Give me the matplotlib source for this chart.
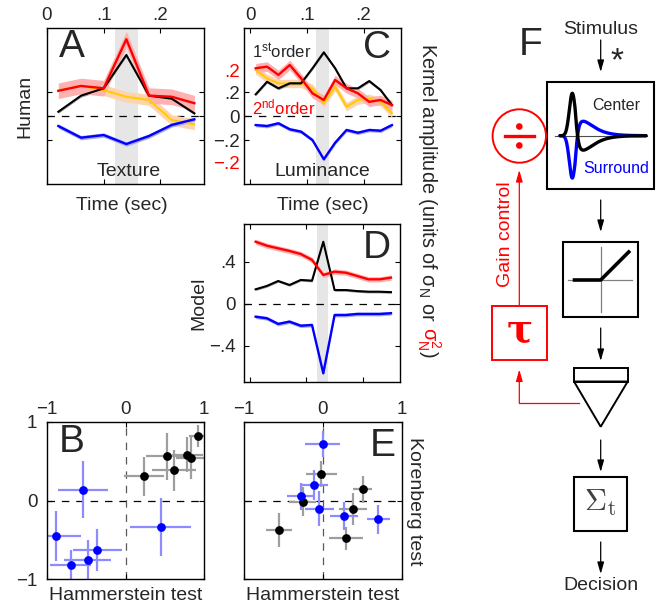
import numpy as np
import matplotlib
matplotlib.use('Agg')
import matplotlib.pyplot as plt
from matplotlib.patches import Rectangle, Circle, Polygon

# ---------------- data ----------------
# Panel A (human, texture) time points (sec)
tA = [0.02, 0.06, 0.10, 0.14, 0.18, 0.22, 0.26]
A_center1 = [0.038, 0.172, 0.233, 0.511, 0.172, 0.147, 0.025]       # black, 1st order units
A_surround1 = [-0.081, -0.178, -0.156, -0.231, -0.164, -0.072, -0.025]  # blue, 1st order units
A_center2 = [0.111, 0.132, 0.122, 0.335, 0.090, 0.085, 0.057]        # red, 2nd order units
A_surround2 = [0.111, 0.132, 0.114, 0.085, 0.071, -0.016, -0.035]    # yellow, 2nd order units

# Panel C (human, luminance)
tC = [0.01, 0.03, 0.05, 0.07, 0.09, 0.11, 0.13, 0.15, 0.17, 0.19, 0.21, 0.23, 0.25]
C_center1 = [0.183, 0.288, 0.233, 0.275, 0.275, 0.400, 0.533, 0.400, 0.233, 0.233, 0.294, 0.219, 0.094]
C_surround1 = [-0.073, -0.081, -0.058, -0.108, -0.128, -0.198, -0.358, -0.220, -0.114, -0.137, -0.114, -0.120, -0.073]
C_center2 = [0.209, 0.216, 0.180, 0.223, 0.165, 0.100, 0.071, 0.158, 0.122, 0.100, 0.063, 0.071, 0.049]
C_surround2 = [0.201, 0.165, 0.143, 0.143, 0.143, 0.122, 0.057, 0.129, 0.042, 0.071, 0.078, 0.063, 0.013]

# Panel D (model)
D_center1 = [0.137, 0.169, 0.216, 0.178, 0.226, 0.219, 0.590, 0.130, 0.130, 0.120, 0.114, 0.114, 0.110]
D_surround1 = [-0.124, -0.139, -0.193, -0.171, -0.210, -0.203, -0.663, -0.108, -0.108, -0.098, -0.098, -0.098, -0.091]
D_center2 = [0.590, 0.552, 0.527, 0.502, 0.473, 0.417, 0.273, 0.305, 0.295, 0.264, 0.232, 0.232, 0.248]

# Panel B scatter (Hammerstein vs Korenberg, texture)
B_black_x = [0.235, 0.535, 0.615, 0.789, 0.831, 0.924]
B_black_y = [0.309, 0.563, 0.385, 0.585, 0.541, 0.817]
B_black_xerr = [0.26, 0.28, 0.28, 0.20, 0.19, 0.12]
B_black_yerr = [0.25, 0.30, 0.26, 0.22, 0.27, 0.14]
B_blue_x = [-0.539, -0.891, -0.700, -0.480, -0.358, 0.447]
B_blue_y = [0.140, -0.457, -0.822, -0.755, -0.632, -0.339]
B_blue_xerr = [0.32, 0.33, 0.26, 0.30, 0.31, 0.39]
B_blue_yerr = [0.36, 0.32, 0.19, 0.25, 0.27, 0.37]

# Panel E scatter (luminance)
E_black_x = [-0.019, -0.255, -0.552, 0.294, 0.379, 0.506]
E_black_y = [0.339, -0.013, -0.377, -0.483, -0.110, 0.144]
E_black_xerr = [0.20, 0.17, 0.165, 0.22, 0.18, 0.12]
E_black_yerr = [0.17, 0.19, 0.22, 0.15, 0.20, 0.17]
E_blue_x = [-0.001, -0.112, -0.280, -0.044, 0.269, 0.704]
E_blue_y = [0.720, 0.200, 0.055, -0.105, -0.200, -0.241]
E_blue_xerr = [0.22, 0.18, 0.17, 0.18, 0.18, 0.15]
E_blue_yerr = [0.16, 0.19, 0.17, 0.22, 0.18, 0.18]

time_ticks = [0, 0.1, 0.2]
time_labels = ['0', '.1', '.2']

# ---------------- style ----------------
plt.rcParams['font.family'] = ['Liberation Sans', 'DejaVu Sans']
plt.rcParams['mathtext.fontset'] = 'custom'
plt.rcParams['mathtext.rm'] = 'Liberation Sans'
plt.rcParams['mathtext.it'] = 'Liberation Sans:italic'
plt.rcParams['mathtext.bf'] = 'Liberation Sans:bold'

TXT = '0.15'
RED = '#ff0000'
BLUE = '#0000ff'
YEL = '#ffcc00'
PINK = '#ffb0b0'
PEACH = '#ffd3b0'
LBLUE = '#a8a8ff'
GREYB = '0.65'
SHADE = '0.9'
R2 = 230.0 / 120.0   # 2nd-order unit scale relative to 1st-order axis

W, H = 663, 606
fig = plt.figure(figsize=(W / 100, H / 100), dpi=100)


def pax(x0, y0, x1, y1):
    return fig.add_axes([x0 / W, 1 - y1 / H, (x1 - x0) / W, (y1 - y0) / H])


def style(ax, labelsize=13.5):
    ax.tick_params(direction='in', length=3.5, width=0.8, top=True, right=True,
                   labelsize=labelsize, colors='k', labelcolor=TXT)
    for s in ax.spines.values():
        s.set_linewidth(1.0)


def band(ax, t, y, e, lc, bc, lw=1.7, z=2):
    y = np.asarray(y, dtype=float)
    ax.fill_between(t, y - e, y + e, color=bc, lw=0, zorder=z)
    ax.plot(t, y, color=lc, lw=lw, zorder=z + 3)


def zero_line(ax, color='k'):
    ax.axhline(0, color=color, lw=0.9, ls=(0, (6, 5.5)), zorder=1)


# ---------------- Panel A ----------------
axA = pax(47, 28, 204, 184)
style(axA)
axA.set_xlim(0, 0.277)
axA.set_ylim(-0.564, 0.736)
axA.axvspan(0.12, 0.16, color=SHADE, lw=0, zorder=0)
zero_line(axA)
sA2 = np.asarray(A_surround2) * R2
cA2 = np.asarray(A_center2) * R2
band(axA, tA, sA2, 0.045, YEL, PEACH, lw=1.5, z=2)
band(axA, tA, cA2, 0.065, RED, PINK, z=3)
band(axA, tA, A_surround1, 0.018, BLUE, LBLUE, z=2)
band(axA, tA, A_center1, 0.012, 'k', GREYB, lw=1.5, z=2)
axA.set_xticks(time_ticks)
axA.set_xticklabels(time_labels)
axA.tick_params(labeltop=True, labelbottom=False, pad=3)
axA.set_yticks([-0.2, 0, 0.2])
axA.set_yticklabels([])
axA.text(0.16, 0.88, 'A', transform=axA.transAxes, fontsize=28, color=TXT, ha='center', va='center')
axA.text(0.52, 0.08, 'Texture', transform=axA.transAxes, fontsize=14, color=TXT, ha='center', va='center')

# ---------------- Panel C ----------------
axC = pax(244, 28, 401, 184)
style(axC)
axC.set_xlim(-0.0106, 0.266)
axC.set_ylim(-0.564, 0.736)
axC.axvspan(0.117, 0.139, color=SHADE, lw=0, zorder=0)
zero_line(axC)
band(axC, tC, np.asarray(C_surround2) * R2, 0.035, YEL, PEACH, lw=1.5, z=2)
band(axC, tC, np.asarray(C_center2) * R2, 0.04, RED, PINK, z=3)
band(axC, tC, C_surround1, 0.015, BLUE, LBLUE, z=2)
band(axC, tC, C_center1, 0.012, 'k', GREYB, lw=1.5, z=2)
axC.set_xticks(time_ticks)
axC.set_xticklabels(time_labels)
axC.tick_params(labeltop=True, labelbottom=False, pad=3)
red_tick = 0.2 * R2
axC.set_yticks([-red_tick, -0.2, 0, 0.2, red_tick])
axC.set_yticklabels(['\u2212.2', '\u2212.2', '0', '.2', '.2'])
axC.tick_params(axis='y', pad=3)
for i, tk in enumerate(axC.yaxis.get_major_ticks()):
    if i in (0, 4):
        tk.tick1line.set_visible(False)
        tk.tick2line.set_visible(False)
        tk.label1.set_color(RED)
axC.text(0.85, 0.87, 'C', transform=axC.transAxes, fontsize=28, color=TXT, ha='center', va='center')
axC.text(0.5, 0.08, 'Luminance', transform=axC.transAxes, fontsize=14, color=TXT, ha='center', va='center')
axC.text(0.24, 0.85, '1$^{\\rm st}$order', transform=axC.transAxes, fontsize=12, color=TXT, ha='center', va='center')
axC.text(0.25, 0.49, '2$^{\\rm nd}$order', transform=axC.transAxes, fontsize=12, color=RED, ha='center', va='center')

# ---------------- Panel D ----------------
axD = pax(244, 224, 400, 382)
style(axD)
axD.set_xlim(-0.0106, 0.266)
axD.set_ylim(-0.746, 0.759)
axD.axvspan(0.119, 0.139, color=SHADE, lw=0, zorder=0)
zero_line(axD)
band(axD, tC, D_center2, 0.025, RED, PINK, z=3)
band(axD, tC, D_surround1, 0.018, BLUE, LBLUE, z=2)
band(axD, tC, D_center1, 0.012, 'k', GREYB, lw=1.5, z=2)
axD.set_xticks(time_ticks)
axD.set_xticklabels([])
axD.set_yticks([-0.4, 0, 0.4])
axD.set_yticklabels(['\u2212.4', '0', '.4'])
axD.tick_params(axis='y', pad=6)
axD.text(0.85, 0.85, 'D', transform=axD.transAxes, fontsize=28, color=TXT, ha='center', va='center')


# ---------------- Panels B and E ----------------
def scatter_panel(ax, bx, by, bxe, bye, ux, uy, uxe, uye):
    style(ax)
    ax.set_xlim(-1, 1)
    ax.set_ylim(-1, 1)
    ax.axhline(0, color='k', lw=0.9, ls=(0, (6, 5.5)), zorder=1)
    ax.axvline(0, color='0.35', lw=0.9, ls=(0, (6, 5.5)), zorder=1)
    ax.errorbar(bx, by, xerr=bxe, yerr=bye, fmt='none', ecolor='0.62', elinewidth=1.6, capsize=0, zorder=2)
    ax.errorbar(ux, uy, xerr=uxe, yerr=uye, fmt='none', ecolor='#8c8cff', elinewidth=1.6, capsize=0, zorder=2)
    ax.plot(bx, by, 'o', color='k', ms=6.3, mec='none', zorder=4)
    ax.plot(ux, uy, 'o', color=BLUE, ms=6.3, mec='none', zorder=4)
    ax.set_xticks([-1, 0, 1])
    ax.set_xticklabels(['\u22121', '0', '1'])
    ax.set_yticks([-1, 0, 1])
    ax.tick_params(labeltop=True, labelbottom=False, pad=3)


axB = pax(47, 422, 204, 579)
scatter_panel(axB, B_black_x, B_black_y, B_black_xerr, B_black_yerr,
              B_blue_x, B_blue_y, B_blue_xerr, B_blue_yerr)
axB.set_yticklabels(['\u22121', '0', '1'])
axB.tick_params(axis='y', pad=7)
axB.text(0.16, 0.87, 'B', transform=axB.transAxes, fontsize=28, color=TXT, ha='center', va='center')

axE = pax(244, 422, 401.7, 579)
scatter_panel(axE, E_black_x, E_black_y, E_black_xerr, E_black_yerr,
              E_blue_x, E_blue_y, E_blue_xerr, E_blue_yerr)
axE.set_yticklabels([])
axE.text(0.88, 0.85, 'E', transform=axE.transAxes, fontsize=28, color=TXT, ha='center', va='center')

# ---------------- overlay for labels and diagram ----------------
ov = fig.add_axes([0, 0, 1, 1])
ov.set_xlim(0, W)
ov.set_ylim(H, 0)
ov.axis('off')

LS = 14
ov.text(25, 106, 'Human', rotation=90, fontsize=LS, color=TXT, ha='center', va='center')
ov.text(122, 205, 'Time (sec)', fontsize=LS, color=TXT, ha='center', va='center')
ov.text(322.5, 205, 'Time (sec)', fontsize=LS, color=TXT, ha='center', va='center')
ov.text(199, 303, 'Model', rotation=90, fontsize=LS, color=TXT, ha='center', va='center')
ov.text(126, 596, 'Hammerstein test', fontsize=LS, color=TXT, ha='center', va='center')
ov.text(322.7, 596, 'Hammerstein test', fontsize=LS, color=TXT, ha='center', va='center')
ov.text(414, 501, 'Korenberg test', rotation=-90, fontsize=LS, color=TXT, ha='center', va='center')

# multi-colour rotated label
fig.canvas.draw()
rend = fig.canvas.get_renderer()
kx = 428
t1 = ov.text(kx, 43, 'Kernel amplitude (units of \u03c3$_{\\rm N}$ or', rotation=-90,
             fontsize=14.3, color=TXT, ha='center', va='top')
bb = t1.get_window_extent(rend)
y2 = H - bb.y0 + 5
t2 = ov.text(kx + 1, y2, '\u03c3$^{2}_{\\rm N}$', rotation=-90, fontsize=14.3, color=RED, ha='center', va='top')
bb2 = t2.get_window_extent(rend)
y3 = H - bb2.y0 + 1
ov.text(kx, y3, ')', rotation=-90, fontsize=14.3, color=TXT, ha='center', va='top')

# ---- Panel F diagram ----
ov.text(530.7, 45, 'F', fontsize=28, color=TXT, ha='center', va='center')
ov.text(600.7, 29, 'Stimulus', fontsize=LS, color=TXT, ha='center', va='center')
ov.text(617, 62, '*', fontsize=24, color=TXT, ha='center', va='center')


def arrow(x0, y0, x1, y1, color='k'):
    ov.annotate('', xy=(x1, y1), xytext=(x0, y0), xycoords='data', textcoords='data',
                arrowprops=dict(arrowstyle='-|>,head_length=0.7,head_width=0.2', color=color,
                                lw=0.9, shrinkA=0, shrinkB=0))


cx = 600.7
arrow(cx, 40, cx, 72)
arrow(cx, 200, cx, 232)
arrow(cx, 328, cx, 361)
arrow(cx, 440, cx, 472)
arrow(cx, 542, cx, 574)

# filter box
ov.add_patch(Rectangle((547.3, 81.7), 107, 107.3, fill=False, ec='k', lw=1.5))
ov.plot([555, 646.7], [135.7, 135.7], color='0.3', lw=0.8)
u = np.linspace(0, 86, 300)
pos = 42.4 * np.exp(-0.5 * ((u - 12.3) / 3.0) ** 2)
v = np.clip(u - 15, 0, None)
neg = 14.5 * (v / 8.0) * np.exp(1 - v / 8.0)
h = pos - neg
ov.plot(560 + u, 135.7 + h, color=BLUE, lw=2.4, solid_capstyle='round')
ov.plot(560 + u, 135.7 - h, color='k', lw=2.4, solid_capstyle='round')
ov.text(616.7, 105, 'Center', fontsize=11.5, color=TXT, ha='center', va='center')
ov.text(616.7, 168.5, 'Surround', fontsize=11.5, color=BLUE, ha='center', va='center')

# divisive circle
ov.add_patch(Circle((519.3, 136), 26.7, fill=False, ec=RED, lw=1.4))
ov.plot([505, 534], [136, 136], color=RED, lw=2.4)
ov.add_patch(Circle((519.3, 126.5), 3.3, color=RED, lw=0))
ov.add_patch(Circle((519.3, 145.5), 3.3, color=RED, lw=0))

# rectifier box
ov.add_patch(Rectangle((562.7, 241.7), 75.6, 75, fill=False, ec='k', lw=1.5))
ov.plot([cx, cx], [246.7, 311.7], color='0.5', lw=0.9)
ov.plot([568, 631.7], [280, 280], color='0.5', lw=0.9)
ov.plot([572.7, cx, 630], [280, 280, 250.7], color='k', lw=2.6, solid_capstyle='butt')

# pooling element
ov.add_patch(Rectangle((574, 367.7), 53.7, 13.8, fill=False, ec='k', lw=1.4))
ov.add_patch(Polygon([(574, 381.5), (627.7, 381.5), (cx, 426.7)], closed=True, fill=False, ec='k', lw=1.4))

# gain-control loop
ov.plot([579.3, 519.3], [402.7, 402.7], color=RED, lw=0.9)
arrow(519.3, 402.7, 519.3, 369.5, color=RED)
ov.add_patch(Rectangle((492.3, 306), 54.4, 54, fill=False, ec=RED, lw=1.4))
ov.text(519.5, 331, '\u03c4', fontsize=28, color=RED, ha='center', va='center',
        family='DejaVu Serif', fontweight='bold')
arrow(519.3, 306, 519.3, 170, color=RED)
ov.text(505, 234, 'Gain control', rotation=90, fontsize=LS, color=RED, ha='center', va='center')

# temporal summation box
ov.add_patch(Rectangle((573.7, 477.3), 53.6, 53.4, fill=False, ec='k', lw=1.5))
ov.text(600.5, 503, '$\\Sigma_{\\mathrm{t}}$', fontsize=22, color='0.25', ha='center', va='center',
        math_fontfamily='cm')
ov.text(cx, 586, 'Decision', fontsize=LS, color=TXT, ha='center', va='center')

fig.savefig('out.png', dpi=100)
